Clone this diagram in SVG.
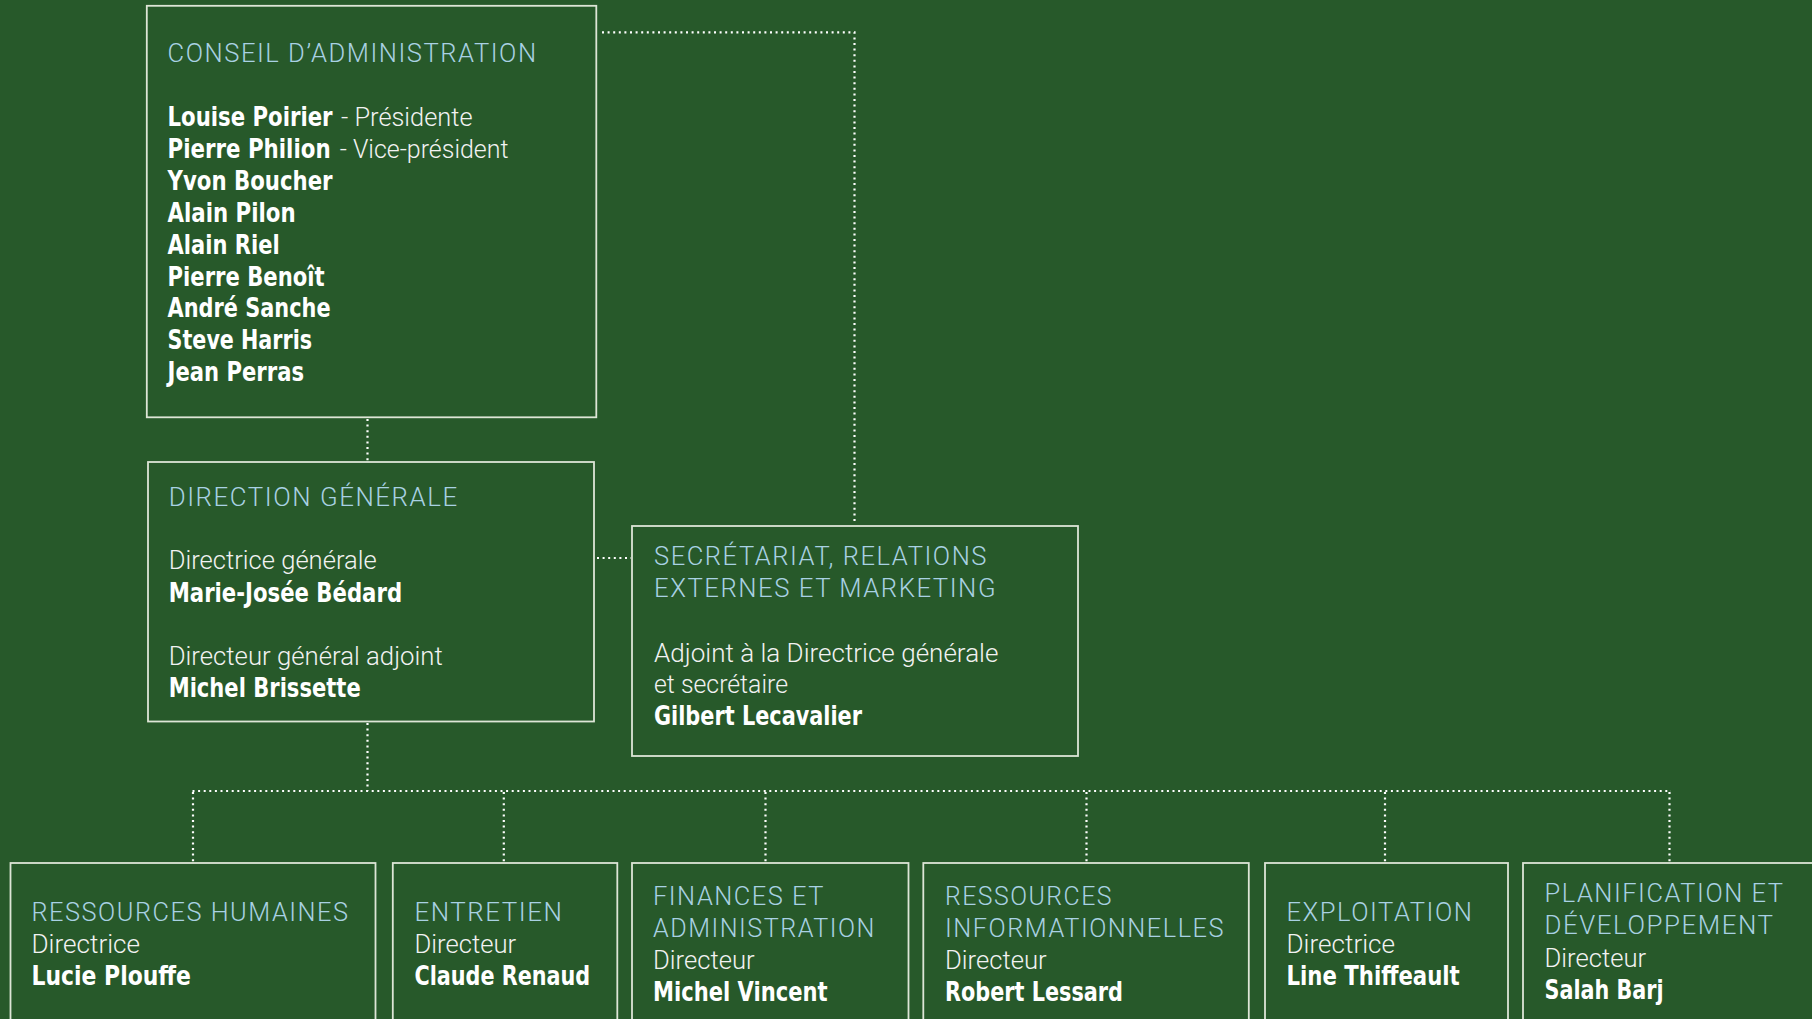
<svg xmlns="http://www.w3.org/2000/svg" width="1812" height="1019" viewBox="0 0 1812 1019">
<style>
.bg{fill:#27592a}
.box{fill:none;stroke:#dde5d6;stroke-width:1.8}
.con{fill:none;stroke:#ffffff;stroke-width:2.2;stroke-dasharray:2 3.6}
text{font-family:"Liberation Sans Narrow","DejaVu Sans Condensed","Liberation Sans",sans-serif}
.t{fill:#a9d1e3;font-size:25px;letter-spacing:1.5px;font-family:Roboto,"Open Sans","DejaVu Sans Condensed",sans-serif;font-weight:300}
.r{fill:#f2f2f2;font-size:25px;font-family:Roboto,"Open Sans","DejaVu Sans Condensed",sans-serif;font-weight:300}
.b{fill:#ffffff;font-size:26px;font-weight:bold}
</style>
<rect class="bg" x="0" y="0" width="1812" height="1019"/>

<g id="connectors">
<path class="con" d="M602 32.3 H854.5 V522"/>
<path class="con" d="M367.5 419 V461"/>
<path class="con" d="M597 558 H631"/>
<path class="con" d="M367.5 723 V791"/>
<path class="con" d="M192.5 791 H1671"/>
<path class="con" d="M193 792 V862"/>
<path class="con" d="M503.8 792 V862"/>
<path class="con" d="M765.5 792 V862"/>
<path class="con" d="M1086.5 792 V862"/>
<path class="con" d="M1385 792 V862"/>
<path class="con" d="M1669.5 792 V862"/>
</g>

<g id="conseil">
<rect class="box" x="146.8" y="5.8" width="449.5" height="411.5"/>
<text class="t" x="167.6" y="62" textLength="370" lengthAdjust="spacingAndGlyphs">CONSEIL D’ADMINISTRATION</text>
<text class="b" x="167.6" y="126" textLength="165" lengthAdjust="spacingAndGlyphs">Louise Poirier</text>
<text class="r" x="341" y="126" textLength="131.5" lengthAdjust="spacingAndGlyphs">- Présidente</text>
<text class="b" x="167.6" y="157.9" textLength="163" lengthAdjust="spacingAndGlyphs">Pierre Philion</text>
<text class="r" x="339.7" y="157.9" textLength="168.8" lengthAdjust="spacingAndGlyphs">- Vice-président</text>
<text class="b" x="167.6" y="189.8" textLength="165" lengthAdjust="spacingAndGlyphs">Yvon Boucher</text>
<text class="b" x="167.6" y="221.7" textLength="128" lengthAdjust="spacingAndGlyphs">Alain Pilon</text>
<text class="b" x="167.6" y="253.6" textLength="112" lengthAdjust="spacingAndGlyphs">Alain Riel</text>
<text class="b" x="167.6" y="285.5" textLength="157" lengthAdjust="spacingAndGlyphs">Pierre Benoît</text>
<text class="b" x="167.6" y="317.4" textLength="163" lengthAdjust="spacingAndGlyphs">André Sanche</text>
<text class="b" x="167.6" y="349.3" textLength="144.5" lengthAdjust="spacingAndGlyphs">Steve Harris</text>
<text class="b" x="167.6" y="381.2" textLength="136.4" lengthAdjust="spacingAndGlyphs">Jean Perras</text>
</g>

<g id="direction">
<rect class="box" x="148" y="462" width="446" height="259.5"/>
<text class="t" x="168.7" y="506" textLength="290" lengthAdjust="spacingAndGlyphs">DIRECTION GÉNÉRALE</text>
<text class="r" x="168.7" y="569.3" textLength="208" lengthAdjust="spacingAndGlyphs">Directrice générale</text>
<text class="b" x="168.7" y="601.7" textLength="233.4" lengthAdjust="spacingAndGlyphs">Marie-Josée Bédard</text>
<text class="r" x="168.7" y="665" textLength="274" lengthAdjust="spacingAndGlyphs">Directeur général adjoint</text>
<text class="b" x="168.7" y="697.3" textLength="192" lengthAdjust="spacingAndGlyphs">Michel Brissette</text>
</g>

<g id="secretariat">
<rect class="box" x="632" y="526" width="446" height="230"/>
<text class="t" x="654" y="565" textLength="334" lengthAdjust="spacingAndGlyphs">SECRÉTARIAT, RELATIONS</text>
<text class="t" x="654" y="597.3" textLength="343" lengthAdjust="spacingAndGlyphs">EXTERNES ET MARKETING</text>
<text class="r" x="654" y="661.7" textLength="344.4" lengthAdjust="spacingAndGlyphs">Adjoint à la Directrice générale</text>
<text class="r" x="654" y="693.3" textLength="134" lengthAdjust="spacingAndGlyphs">et secrétaire</text>
<text class="b" x="654" y="725" textLength="208" lengthAdjust="spacingAndGlyphs">Gilbert Lecavalier</text>
</g>

<g id="rh">
<rect class="box" x="10.5" y="863" width="365" height="200"/>
<text class="t" x="31.5" y="920.7" textLength="318" lengthAdjust="spacingAndGlyphs">RESSOURCES HUMAINES</text>
<text class="r" x="31.5" y="952.7" textLength="108.6" lengthAdjust="spacingAndGlyphs">Directrice</text>
<text class="b" x="31.5" y="984.5" textLength="159.5" lengthAdjust="spacingAndGlyphs">Lucie Plouffe</text>
</g>

<g id="entretien">
<rect class="box" x="392.8" y="863" width="224.5" height="200"/>
<text class="t" x="414.5" y="920.7" textLength="149" lengthAdjust="spacingAndGlyphs">ENTRETIEN</text>
<text class="r" x="414.5" y="952.7" textLength="101.7" lengthAdjust="spacingAndGlyphs">Directeur</text>
<text class="b" x="414.5" y="984.5" textLength="175.6" lengthAdjust="spacingAndGlyphs">Claude Renaud</text>
</g>

<g id="finances">
<rect class="box" x="632" y="863" width="276.5" height="200"/>
<text class="t" x="653" y="905" textLength="172" lengthAdjust="spacingAndGlyphs">FINANCES ET</text>
<text class="t" x="653" y="936.7" textLength="223" lengthAdjust="spacingAndGlyphs">ADMINISTRATION</text>
<text class="r" x="653" y="969" textLength="101.7" lengthAdjust="spacingAndGlyphs">Directeur</text>
<text class="b" x="653" y="1000.7" textLength="174.5" lengthAdjust="spacingAndGlyphs">Michel Vincent</text>
</g>

<g id="ri">
<rect class="box" x="923.3" y="863" width="325.5" height="200"/>
<text class="t" x="945" y="905" textLength="168" lengthAdjust="spacingAndGlyphs">RESSOURCES</text>
<text class="t" x="945" y="936.7" textLength="280" lengthAdjust="spacingAndGlyphs">INFORMATIONNELLES</text>
<text class="r" x="945" y="969" textLength="101.7" lengthAdjust="spacingAndGlyphs">Directeur</text>
<text class="b" x="945" y="1000.7" textLength="178" lengthAdjust="spacingAndGlyphs">Robert Lessard</text>
</g>

<g id="exploitation">
<rect class="box" x="1265" y="863" width="243" height="200"/>
<text class="t" x="1286.5" y="920.7" textLength="187" lengthAdjust="spacingAndGlyphs">EXPLOITATION</text>
<text class="r" x="1286.5" y="952.7" textLength="108.6" lengthAdjust="spacingAndGlyphs">Directrice</text>
<text class="b" x="1286.5" y="984.5" textLength="173.3" lengthAdjust="spacingAndGlyphs">Line Thiffeault</text>
</g>

<g id="planification">
<rect class="box" x="1523" y="863" width="320" height="200"/>
<text class="t" x="1544.5" y="901.7" textLength="240" lengthAdjust="spacingAndGlyphs">PLANIFICATION ET</text>
<text class="t" x="1544.5" y="934.3" textLength="230" lengthAdjust="spacingAndGlyphs">DÉVELOPPEMENT</text>
<text class="r" x="1544.5" y="966.7" textLength="101.7" lengthAdjust="spacingAndGlyphs">Directeur</text>
<text class="b" x="1544.5" y="999" textLength="119" lengthAdjust="spacingAndGlyphs">Salah Barj</text>
</g>
</svg>
